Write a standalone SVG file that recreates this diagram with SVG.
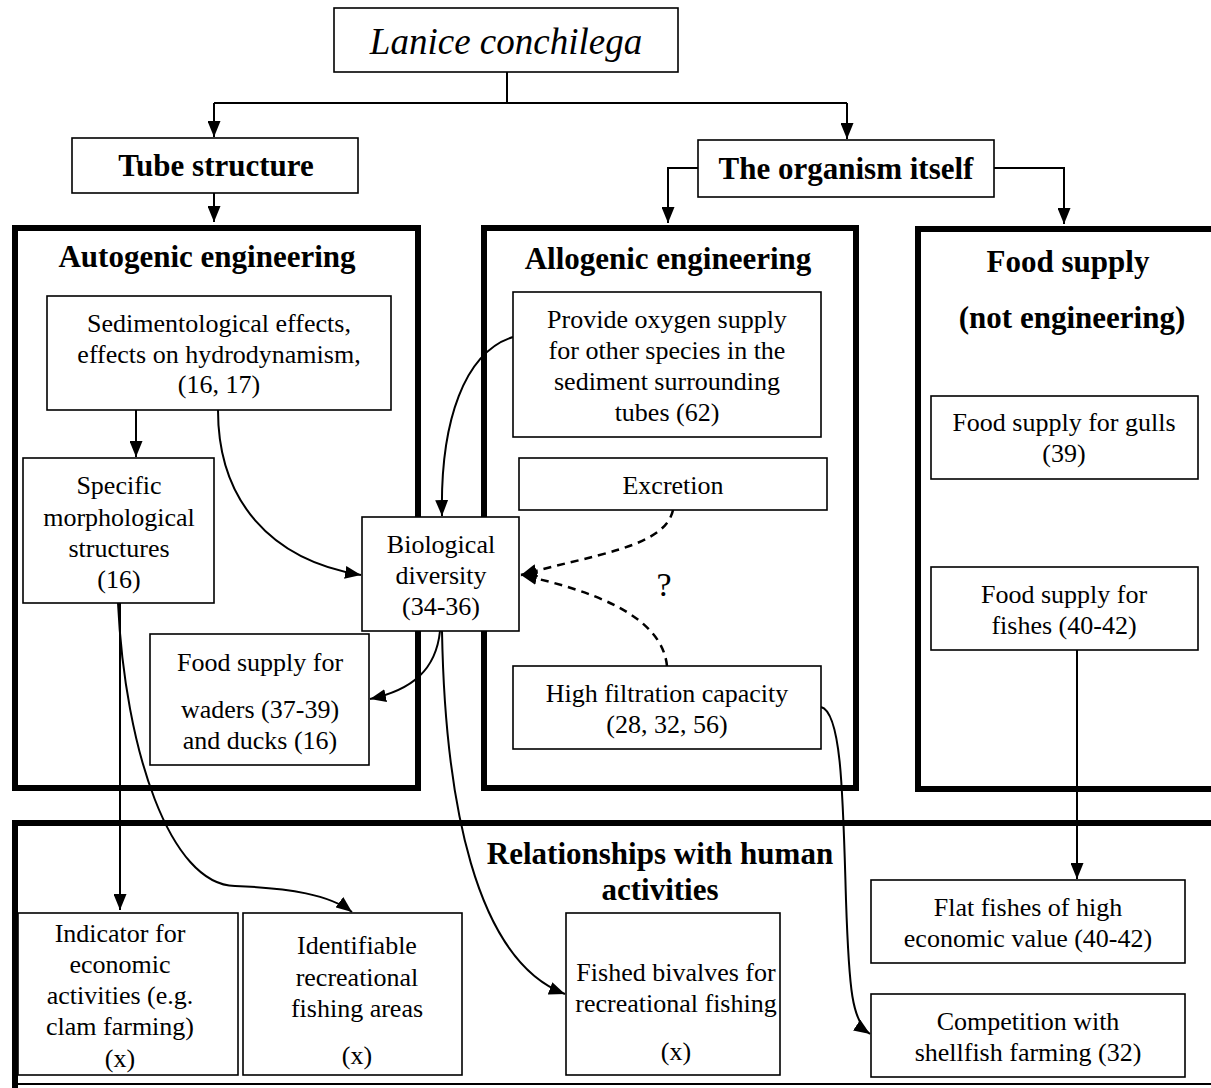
<svg xmlns="http://www.w3.org/2000/svg" width="1211" height="1088" viewBox="0 0 1211 1088">
<style>
.t{font-family:"Liberation Serif","Times New Roman",serif;font-size:26px;fill:#000;text-anchor:middle}
.h{font-family:"Liberation Serif","Times New Roman",serif;font-size:31px;font-weight:bold;fill:#000;text-anchor:middle}
.box{fill:#fff;stroke:#000;stroke-width:1.6}
.frame{fill:none;stroke:#000;stroke-width:6}
.c{fill:none;stroke:#000;stroke-width:2}
.d{fill:none;stroke:#000;stroke-width:2.5;stroke-dasharray:8,6}
</style>
<defs>
<marker id="a" markerUnits="userSpaceOnUse" markerWidth="17" markerHeight="13" refX="16" refY="6.5" orient="auto">
<path d="M0,0 L16,6.5 L0,13 z" fill="#000"/>
</marker>
</defs>
<rect width="1211" height="1088" fill="#fff"/>

<g id="frames">
<rect id="autogenic" class="frame" x="15" y="228" width="403" height="560"/>
<rect id="allogenic" class="frame" x="484" y="228" width="372" height="560"/>
<rect id="foodframe" class="frame" x="918" y="229" width="300" height="560"/>
<rect id="human" class="frame" x="15" y="823" width="1203" height="300"/>
<line x1="12" y1="1084" x2="1211" y2="1084" stroke="#000" stroke-width="2"/>
</g>

<g id="connectors">
<path class="c" d="M507,72 V103 M214,103 H847"/>
<path class="c" d="M214,103 V137" marker-end="url(#a)"/>
<path class="c" d="M847,103 V139" marker-end="url(#a)"/>
<path class="c" d="M698,168 H668 V223" marker-end="url(#a)"/>
<path class="c" d="M994,168 H1064 V224" marker-end="url(#a)"/>
<path class="c" d="M214,193 V222" marker-end="url(#a)"/>
<path class="c" d="M136,410 V457" marker-end="url(#a)"/>
<path class="c" d="M218,410 C218,500 270,560 361,575" marker-end="url(#a)"/>
<path class="c" d="M513,337 C465,352 440,420 442,516" marker-end="url(#a)"/>
<path class="d" d="M673,510 C665,548 590,555 521,575" marker-end="url(#a)"/>
<path class="d" d="M667,666 C662,615 590,590 521,575" marker-end="url(#a)"/>
<path class="c" d="M440,631 C436,670 412,690 370,699" marker-end="url(#a)"/>
<path class="c" d="M442,631 C445,800 475,960 565,994" marker-end="url(#a)"/>
<path class="c" d="M120,603 V910" marker-end="url(#a)"/>
<path class="c" d="M118,603 C125,750 170,885 235,886 C290,888 330,895 352,912" marker-end="url(#a)"/>
<path class="c" d="M821,707 C842,712 843,800 846,900 C849,990 852,1022 870,1034" marker-end="url(#a)"/>
<path class="c" d="M1077,650 V879" marker-end="url(#a)"/>
</g>

<g id="lanice">
<rect class="box" x="334" y="8" width="344" height="64"/>
<text x="506" y="54" class="t" style="font-size:37px;font-style:italic">Lanice conchilega</text>
</g>
<g id="tube">
<rect class="box" x="72" y="138" width="286" height="55"/>
<text x="216" y="176" class="h">Tube structure</text>
</g>
<g id="organism">
<rect class="box" x="698" y="140" width="296" height="57"/>
<text x="846" y="179" class="h">The organism itself</text>
</g>

<text x="207" y="267" class="h">Autogenic engineering</text>
<text x="668" y="269" class="h">Allogenic engineering</text>
<text x="1068" y="272" class="h">Food supply</text>
<text x="1072" y="328" class="h">(not engineering)</text>
<text x="660" y="864" class="h">Relationships with human</text>
<text x="660" y="900" class="h">activities</text>

<g id="sediment">
<rect class="box" x="47" y="296" width="344" height="114"/>
<text class="t" x="219" y="332">Sedimentological effects,</text>
<text class="t" x="219" y="363">effects on hydrodynamism,</text>
<text class="t" x="219" y="393">(16, 17)</text>
</g>
<g id="specific">
<rect class="box" x="23" y="458" width="191" height="145"/>
<text class="t" x="119" y="494">Specific</text>
<text class="t" x="119" y="526">morphological</text>
<text class="t" x="119" y="557">structures</text>
<text class="t" x="119" y="588">(16)</text>
</g>
<g id="biodiv">
<rect class="box" x="362" y="517" width="157" height="114"/>
<text class="t" x="441" y="553">Biological</text>
<text class="t" x="441" y="584">diversity</text>
<text class="t" x="441" y="615">(34-36)</text>
</g>
<g id="waders">
<rect class="box" x="150" y="634" width="219" height="131"/>
<text class="t" x="260" y="671">Food supply for</text>
<text class="t" x="260" y="718">waders (37-39)</text>
<text class="t" x="260" y="749">and ducks (16)</text>
</g>
<g id="oxygen">
<rect class="box" x="513" y="292" width="308" height="145"/>
<text class="t" x="667" y="328">Provide oxygen supply</text>
<text class="t" x="667" y="359">for other species in the</text>
<text class="t" x="667" y="390">sediment surrounding</text>
<text class="t" x="667" y="421">tubes (62)</text>
</g>
<g id="excretion">
<rect class="box" x="519" y="458" width="308" height="52"/>
<text class="t" x="673" y="494">Excretion</text>
</g>
<text class="t" x="664" y="596" style="font-size:34px">?</text>
<g id="filtration">
<rect class="box" x="513" y="666" width="308" height="83"/>
<text class="t" x="667" y="702">High filtration capacity</text>
<text class="t" x="667" y="733">(28, 32, 56)</text>
</g>
<g id="gulls">
<rect class="box" x="931" y="396" width="267" height="83"/>
<text class="t" x="1064" y="431">Food supply for gulls</text>
<text class="t" x="1064" y="462">(39)</text>
</g>
<g id="fishes">
<rect class="box" x="931" y="567" width="267" height="83"/>
<text class="t" x="1064" y="603">Food supply for</text>
<text class="t" x="1064" y="634">fishes (40-42)</text>
</g>
<g id="indicator">
<rect class="box" x="18" y="913" width="220" height="162"/>
<text class="t" x="120" y="942">Indicator for</text>
<text class="t" x="120" y="973">economic</text>
<text class="t" x="120" y="1004">activities (e.g.</text>
<text class="t" x="120" y="1035">clam farming)</text>
<text class="t" x="120" y="1067">(x)</text>
</g>
<g id="identifiable">
<rect class="box" x="243" y="913" width="219" height="162"/>
<text class="t" x="357" y="954">Identifiable</text>
<text class="t" x="357" y="986">recreational</text>
<text class="t" x="357" y="1017">fishing areas</text>
<text class="t" x="357" y="1064">(x)</text>
</g>
<g id="bivalves">
<rect class="box" x="566" y="913" width="214" height="162"/>
<text class="t" x="676" y="981">Fished bivalves for</text>
<text class="t" x="676" y="1012">recreational fishing</text>
<text class="t" x="676" y="1060">(x)</text>
</g>
<g id="flatfish">
<rect class="box" x="871" y="880" width="314" height="83"/>
<text class="t" x="1028" y="916">Flat fishes of high</text>
<text class="t" x="1028" y="947">economic value (40-42)</text>
</g>
<g id="competition">
<rect class="box" x="871" y="994" width="314" height="83"/>
<text class="t" x="1028" y="1030">Competition with</text>
<text class="t" x="1028" y="1061">shellfish farming (32)</text>
</g>
</svg>
